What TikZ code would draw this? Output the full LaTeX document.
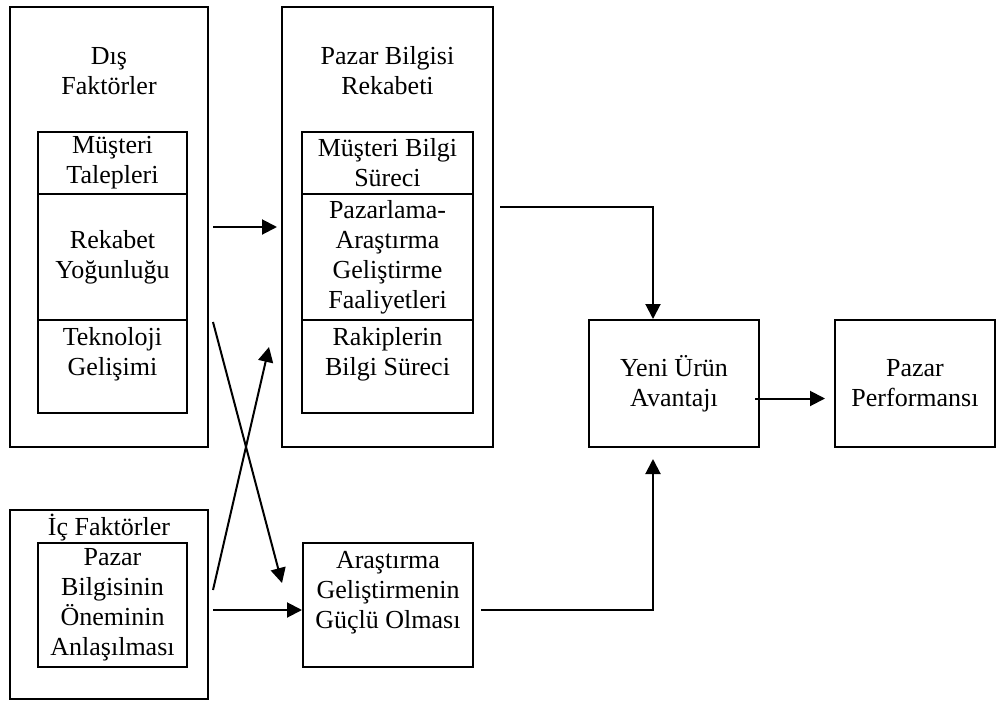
\documentclass[tikz,border=0pt]{standalone}
\usepackage{fontspec}
\setmainfont{Liberation Serif}
\usetikzlibrary{arrows.meta}

\begin{document}
\begin{tikzpicture}[
        x=0.5pt, y=-0.5pt, % one unit is one pixel of the sketch
        font=\fontsize{13}{15}\selectfont,
        factorbox/.style={
            draw=black,
            line width=1pt,
            inner sep=0pt
        },
        factorcell/.style={
            draw=black,
            line width=1pt,
            inner sep=0pt,
            align=center
        },
        flowarrow/.style={
            line width=1pt,
            -{Triangle[length=7.5pt,width=7.5pt]}
        }
    ]
\useasboundingbox (0,0) rectangle (997,702);

% Outer frames
        \node[factorbox, minimum width=99pt, minimum height=220pt] (dis) at (109,227) {};
        \node[factorbox, minimum width=105.5pt, minimum height=220pt] (pb) at (387.5,227) {};
        \node[factorbox, minimum width=99pt, minimum height=94.5pt] (ic) at (109,604.5) {};

        \node[align=center] (disT) at (109,71) {Dış\\Faktörler};
        \node[align=center] (pbT) at (387.5,71) {Pazar Bilgisi\\Rekabeti};
        \node (icT) at (109,528) {İç Faktörler};

% Cells of the outer frames
        \node[factorcell, minimum width=74.5pt, minimum height=31pt] (musteri) at (112.5,163) {Müşteri\\Talepleri};
        \node[factorcell, minimum width=74.5pt, minimum height=63pt] (rekabet) at (112.5,257) {Rekabet\\Yoğunluğu};
        \node[factorcell, minimum width=74.5pt, minimum height=46.5pt] (teknoloji) at (112.5,366.5) {Teknoloji\\Gelişimi\\\mbox{}};

        \node[factorcell, minimum width=85.5pt, minimum height=31pt] (mbilgi) at (387.5,163) {Müşteri Bilgi\\Süreci};
        \node[factorcell, minimum width=85.5pt, minimum height=63pt] (pazarlama) at (387.5,257) {Pazarlama-\\Araştırma\\Geliştirme\\Faaliyetleri};
        \node[factorcell, minimum width=85.5pt, minimum height=46.5pt] (rakip) at (387.5,366.5) {Rakiplerin\\Bilgi Süreci\\\mbox{}};

        \node[factorcell, minimum width=74.5pt, minimum height=62pt] (onem) at (112.5,605) {Pazar\\Bilgisinin\\Öneminin\\Anlaşılması};

% Single boxes
        \node[factorcell, minimum width=85pt, minimum height=62pt] (arge) at (388,605) {Araştırma\\Geliştirmenin\\Güçlü Olması\\\mbox{}};
        \node[factorcell, minimum width=85pt, minimum height=63.5pt] (yeni) at (674,383.5) {Yeni Ürün\\Avantajı};
        \node[factorcell, minimum width=80pt, minimum height=63.5pt] (perf) at (915,383.5) {Pazar\\Performansı};

% Connectors
\draw[flowarrow, shorten <=2pt, shorten >=2pt] (dis) -- (pb);
\draw[flowarrow] ([xshift=3pt,yshift=10pt]pb.east) -| ([xshift=-10.5pt]yeni.north);
\draw[flowarrow] ([xshift=-2.5pt,yshift=-7.5pt]yeni.east) -- ([xshift=-4.5pt,yshift=-7.5pt]perf.west);
\draw[flowarrow] ([xshift=3.5pt,yshift=-2.5pt]arge.east) -| ([xshift=-10.5pt,yshift=-5.5pt]yeni.south);
\draw[flowarrow] ([xshift=2pt,yshift=-2.75pt]ic.east) -- ([yshift=-2.5pt]arge.west);

% Crossing arrows
\draw[flowarrow] ([xshift=2pt,yshift=-47.5pt]dis.east) -- ([xshift=-10pt,yshift=11pt]arge.west);
\draw[flowarrow] ([xshift=2pt,yshift=7.25pt]ic.east) -- ([xshift=-6pt,yshift=-60pt]pb.west);

    \end{tikzpicture}
\end{document}
